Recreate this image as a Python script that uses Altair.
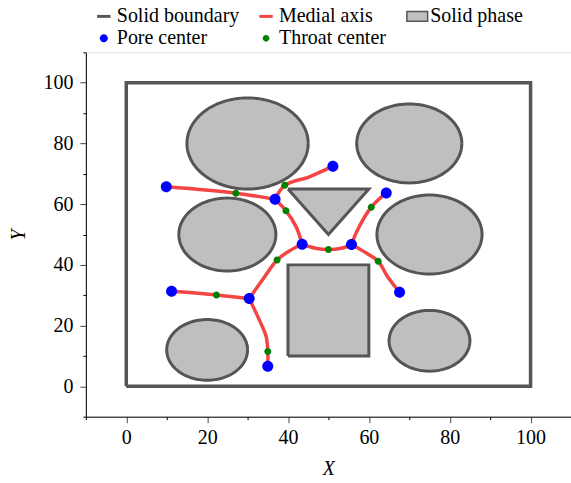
import numpy as np
import pandas as pd
import altair as alt

FONT = "Liberation Serif"

# Outer solid boundary of the domain
boundary_x = [0, 100, 100, 0, 0]
boundary_y = [0, 0, 100, 100, 0]

# Circular grains: centre and radius
grain_cx = [30, 70, 25, 75, 20, 75]
grain_cy = [80, 80, 50, 50, 12, 15]
grain_r = [15, 13, 12, 13, 10, 10]

# Polygonal grains
triangle_x = [40, 60, 50, 40]
triangle_y = [65, 65, 50, 65]
rect_x = [40, 60, 60, 40, 40]
rect_y = [10, 10, 40, 40, 10]

# Medial-axis branches (pore -> throat -> pore)
br1_x = [9.9, 27.1, 36.8]
br1_y = [65.7, 63.6, 61.6]
br2_x = [36.8, 39.2, 45.3, 51.1]
br2_y = [61.6, 66.2, 69.0, 72.5]
br3_x = [36.8, 39.5, 42.0, 43.5]
br3_y = [61.6, 57.8, 52.6, 46.8]
br4_x = [43.5, 46.8, 50.0, 53.2, 55.7]
br4_y = [46.8, 45.5, 45.1, 45.5, 46.7]
br5_x = [55.7, 57.2, 60.6, 64.3]
br5_y = [46.7, 51.5, 59.0, 63.7]
br6_x = [43.5, 40.2, 37.3, 33.7, 30.4]
br6_y = [46.8, 44.5, 41.6, 35.1, 28.9]
br7_x = [55.7, 59.0, 62.3, 64.6, 67.6]
br7_y = [46.7, 44.2, 41.2, 36.2, 31.0]
br8_x = [11.2, 22.3, 30.4]
br8_y = [31.3, 30.1, 28.9]
br9_x = [30.4, 32.9, 34.6, 35.0, 35.0]
br9_y = [28.9, 21.9, 16.4, 11.5, 6.6]

# Pore and throat centres
pore_x = [9.9, 51.1, 36.8, 64.3, 43.5, 55.7, 11.2, 30.4, 67.6, 35.0]
pore_y = [65.7, 72.5, 61.6, 63.7, 46.8, 46.7, 31.3, 28.9, 31.0, 6.6]
throat_x = [27.1, 39.2, 39.5, 50.0, 37.3, 62.3, 60.6, 22.3, 35.0]
throat_y = [63.6, 66.2, 57.8, 45.1, 41.6, 41.2, 59.0, 30.1, 11.5]

# Axis ticks
major_ticks = [0, 20, 40, 60, 80, 100]
minor_ticks = [-10, 10, 30, 50, 70, 90, 110]

KINDS = ["Solid boundary", "Medial axis", "Solid phase", "Pore center", "Throat center"]
COLORS = ["#555555", "#f44444", "#bfbfbf", "#0000ff", "#008000"]
# Only the solid-phase key swatch carries an outline
OUTLINES = ["transparent", "transparent", "#555555", "transparent", "transparent"]


def circle_path(r):
    return f"M{-r},0A{r},{r},0,1,1,{r},0A{r},{r},0,1,1,{-r},0Z"


# Symbol outlines (unit box) shared by the markers and the key
SHAPES = [
    "M-1,-0.22H1V0.22H-1Z",
    "M-1,-0.22H1V0.22H-1Z",
    "M-1.55,-0.72H1.55V0.72H-1.55Z",
    circle_path(0.6),
    circle_path(0.5),
]


def path_frame(xs, ys, pid, kind):
    return pd.DataFrame({"x": xs, "y": ys, "pid": pid, "idx": range(len(xs)), "kind": kind})


boundary_df = path_frame(boundary_x, boundary_y, "boundary", "Solid boundary")

theta = np.linspace(0, 2 * np.pi, 121)
grain_frames = []
for i, (cx, cy, r) in enumerate(zip(grain_cx, grain_cy, grain_r)):
    grain_frames.append(path_frame(cx + r * np.cos(theta), cy + r * np.sin(theta), f"g{i}", "Solid phase"))
grain_frames.append(path_frame(triangle_x, triangle_y, "tri", "Solid phase"))
grain_frames.append(path_frame(rect_x, rect_y, "rect", "Solid phase"))
grains_df = pd.concat(grain_frames, ignore_index=True)

branch_list = [(br1_x, br1_y), (br2_x, br2_y), (br3_x, br3_y), (br4_x, br4_y), (br5_x, br5_y),
               (br6_x, br6_y), (br7_x, br7_y), (br8_x, br8_y), (br9_x, br9_y)]
axis_df = pd.concat([path_frame(bx, by, f"b{i}", "Medial axis") for i, (bx, by) in enumerate(branch_list)],
                    ignore_index=True)

pores_df = pd.DataFrame({"x": pore_x, "y": pore_y, "kind": "Pore center"})
throats_df = pd.DataFrame({"x": throat_x, "y": throat_y, "kind": "Throat center"})

scale = alt.Scale(domain=[-10, 110], nice=False, zero=False)
axis_style = dict(
    grid=False, domainColor="#000000", tickColor="#444444",
    labelFont=FONT, labelFontSize=20, labelColor="#000000",
    titleFont=FONT, titleFontSize=20, titleFontStyle="italic", titleFontWeight="normal",
    titleColor="#000000",
)
x_enc = alt.X("x:Q", scale=scale,
              axis=alt.Axis(title="X", orient="bottom", values=major_ticks, tickSize=6,
                            labelPadding=5, titlePadding=11, **axis_style))
y_enc = alt.Y("y:Q", scale=scale,
              axis=alt.Axis(title="Y", orient="left", values=major_ticks, tickSize=6,
                            labelPadding=7, titlePadding=14, **axis_style))

minor_style = dict(values=minor_ticks, tickSize=3, labels=False, domain=False, grid=False,
                   title=None, tickColor="#000000")
x_minor = alt.X("x:Q", scale=scale, axis=alt.Axis(orient="bottom", **minor_style))
y_minor = alt.Y("y:Q", scale=scale, axis=alt.Axis(orient="left", **minor_style))

legend = alt.Legend(
    title=None, orient="none", legendX=8, legendY=-46, direction="horizontal", columns=3,
    columnPadding=16.5, rowPadding=2, symbolSize=180, labelOffset=3, padding=0,
    labelFont=FONT, labelFontSize=20, labelColor="#000000", symbolOpacity=1,
    symbolStrokeWidth=1.5,
)

color_enc = alt.Color("kind:N", scale=alt.Scale(domain=KINDS, range=COLORS), legend=legend)
shape_enc = alt.Shape("kind:N", scale=alt.Scale(domain=KINDS, range=SHAPES), legend=legend)
stroke_enc = alt.Stroke("kind:N", scale=alt.Scale(domain=KINDS, range=OUTLINES), legend=legend)

boundary = alt.Chart(boundary_df).mark_line(
    stroke="#555555", strokeWidth=3.5, strokeJoin="miter"
).encode(x=x_enc, y=y_enc, detail="pid:N", order="idx:Q")

grains = alt.Chart(grains_df).mark_line(
    fill="#bfbfbf", stroke="#555555", strokeWidth=3, strokeJoin="miter"
).encode(x="x:Q", y="y:Q", detail="pid:N", order="idx:Q")

medial = alt.Chart(axis_df).mark_line(
    stroke="#f44444", strokeWidth=3.5, interpolate="catmull-rom", strokeCap="round"
).encode(x="x:Q", y="y:Q", detail="pid:N", order="idx:Q")

throats = alt.Chart(throats_df).mark_point(filled=True, size=196, opacity=1, strokeWidth=1.5).encode(
    x="x:Q", y="y:Q", color=color_enc, shape=shape_enc, stroke=stroke_enc)

pores = alt.Chart(pores_df).mark_point(filled=True, size=336, opacity=1, strokeWidth=1.5).encode(
    x="x:Q", y="y:Q", color=color_enc, shape=shape_enc, stroke=stroke_enc)

main = alt.layer(boundary, grains, medial, throats, pores)

# Minor ticks only: an invisible layer carrying its own axes on the shared scales
minor = alt.Chart(pores_df).mark_point(opacity=0).encode(x=x_minor, y=y_minor)

chart = alt.layer(main, minor).resolve_axis(x="independent", y="independent").properties(
    width=486, height=365,
    padding={"left": 86, "top": 52, "right": 0, "bottom": 66},
    autosize=alt.AutoSizeParams(type="none"),
).configure_view(stroke="#000000", strokeWidth=1).configure(background="white")

chart.save("out.html", embed_options={"renderer": "svg", "actions": False})
